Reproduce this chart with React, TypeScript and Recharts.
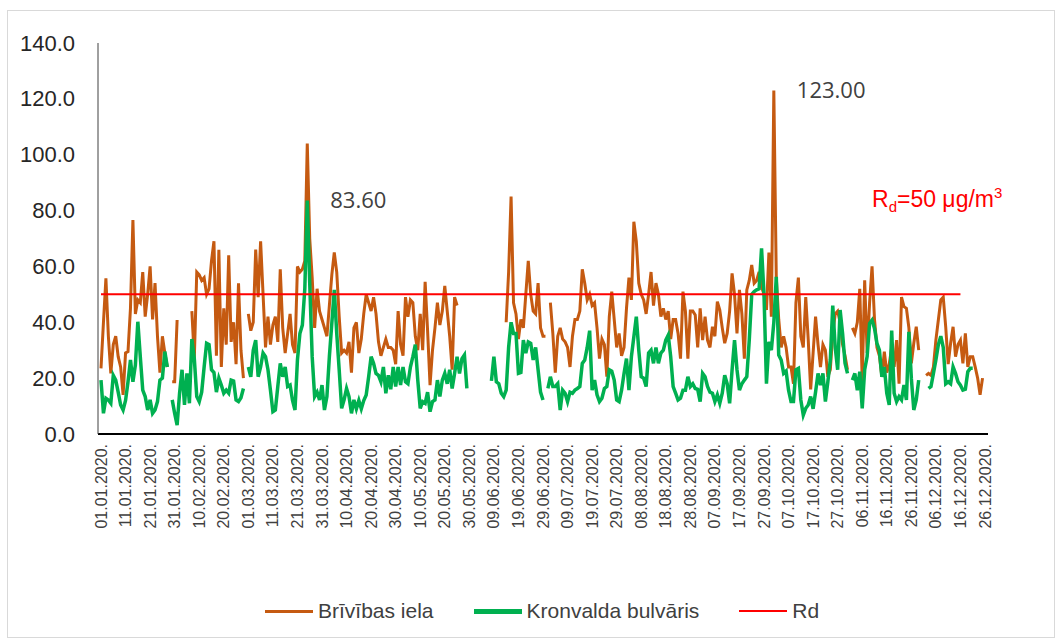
import { LineChart, Line, XAxis, YAxis, ReferenceLine, ReferenceDot } from 'recharts';

// daily PM10 averages, 01.01.2020. - 26.12.2020. (null = no data)
const brivibasIela: (number | null)[] = [
  23.5, 40, 55.7, 35, 21.7, 32, 35, 27.7, 24, 14,
  29, 29.5, 45, 76.6, 43, 48, 47, 58, 42, 50,
  60, 41, 54, 35, 22, 35, 29, 24, null, 18.7,
  18.7, 40.8, null, null, null, null, null, 44, 27, 58,
  57, 55, 56, 50, 52, 62, 69, 28, 66, 24,
  45, 32, 64, 33, 40, 25, 54, 30, 20, null,
  43, 37, 40, 66, 49, 69, 50, 31, 42, 32,
  39, 42, 33, 59, 38, 29, 36, 43, 32, 29,
  60, 58, 59, 62, 104, 70, 56, 38, 52, 44,
  41, 38, 35, 46, 57, 65, 58, 42, 29, 30,
  29, 33, 22, 38, 40, 29, 34, 43, 50, 47,
  44, 49, 43, 33, 28, 31, 34, 31, 31, 30,
  25, 44, 32, 28, 49, 42, 48, 47, 35, 30,
  43, 30, 54.5, 37, 17.5, 30, 38, 47, 39, 44,
  53, 44, 35, 23, 49, 46, null, null, null, null,
  null, null, null, null, null, null, null, null, null, null,
  null, null, null, null, null, 40, 58, 85, 47, 43,
  34, 41, 38, 50, 62, 50, 44, 43, 54, 38,
  35, 35, null, 47, 36, 22, 35, 38, 34, 33,
  31, 24, 35, 41, 41, 44, 59, 54, 48, 50,
  46, 47, 38, 27, 34, 32, 20.5, 42, 51, 41,
  31, 36, 28, 31, 45, 56, 48, 76, 69, 54,
  50, 48, 43, 50, 58, 46, 54, 50, 42, 45,
  41, 44, 34, 41, 41, 36, 27, 51, 44, 27,
  44, 44, 42.6, 31, 45, 33.6, 42, 33.6, 31, 38.4,
  35, 47.4, 44.4, 38, 32.5, 36, 44, 57.5, 50, 36,
  51.6, 43, 27, 51.6, 55, 60.5, 54, 55, 58, 52.7,
  50, 44.4, 65, 42, 123, 56, 41, 31, 35, 31,
  24, 24, 18, 47, 56, 35, 31, 49, 34, 16,
  29, 42, 32, 24, 32, 30, 20.5, 23, 36, 43,
  44, 40, 32, 28, 23, null, 38, 36, 40, 52,
  19, 55, 29, 47, 60, 41, 31, 28, 20.5, 29.5,
  22, 25, 31, 24, 33.6, 18, 49, 45.6, 45, 38,
  25.3, 32.5, 38.4, 30, null, null, 21, 21.7, 21, 24,
  33.6, 40.8, 48, 49, 38.4, 25, 32.5, 38.4, 27.7, 32,
  33.6, 25.3, 36, 24, 27.7, 27.7, 24, 20, 14, 20,
  null,
];

const kronvaldaBulvaris: (number | null)[] = [
  19.3, 7.4, 12.8, 12.2, 11, 21, 19.3, 15, 10.4, 8.6,
  12, 18.7, 26.5, 18.7, 24.7, 40.2, 27.7, 15.7, 13.4, 8.6,
  12.2, 7.4, 8.6, 11.6, 19.3, 20, 29.5, 24, null, 12.2,
  7.4, 3.2, 14.6, 23, 10.4, 21.7, 11, 34, 27, 13.4,
  11.6, 15, 24, 32.5, 32, 23, 22, 15, 20, 17.5,
  14.6, 15.7, 14.6, 19.3, 19, 12.2, 11.6, 13, 16.3, null,
  24, 20.5, 30, 33.6, 20.5, 24, 29, 27.7, 23, 15.7,
  8, 8.6, 17, 25.3, 20.5, 24, 17, 17.5, 12, 8.6,
  26.5, 36, 39, 52, 83.6, 54, 27.7, 13.4, 15, 12.2,
  17.5, 8.6, 13.4, 27.7, 39.6, 51.6, 36, 23, 9.2, 12.2,
  16.3, 13.4, 7.4, 12.2, 9, 12, 9, 12, 14, 20.5,
  27.7, 25.3, 21.7, 21, 18.7, 24, 14.6, 21, 16, 24,
  17, 24, 17.5, 24, 18.7, 18, 24, 27.7, 32, 19.3,
  9.2, 11.6, 11, 15, 8, 11.6, 12.2, 19.3, 13.4, 19.3,
  21.7, 18, 23, 16.3, 21.7, 27.7, 21.7, 27, 28.3, 16.3,
  null, null, null, null, null, null, null, null, null, 19,
  27.7, 18.7, 18, 14.6, 13.4, 15.7, 31, 40, 36, 36,
  21.7, 22, 33.6, 29, 33, 32.5, 26.5, 31, 23, 15,
  12.2, null, 16.3, 20.5, 17, 17, 18, 8.6, 15.7, 14.6,
  11.6, 15, 14.6, 15.7, 16.3, 17, 25.3, 26.5, 31, 37,
  15.7, 19.3, 14, 11.6, 12.8, 16.3, 17, 23, 22.5, 19.3,
  12.2, 11.6, 15.7, 21.7, 27, 15.7, 27.7, 34.8, 42, 30,
  20.5, 20, 17, 29, 30, 25.3, 31, 25.3, 29, 30,
  33.6, 35.4, 27.7, 17, 14.6, 12.2, 12.8, 15.7, 15.7, 20.5,
  17, 18, 16.3, 16, 11.6, 21.7, 20.5, 17, 15, 14.6,
  11.6, 14, 11, 14.6, 21, 18, 11, 23, 33.6, 23,
  15.7, 18, 19.3, 20.5, 33.6, 50, 51, 51.6, 52, 66.5,
  50, 18, 33, 30, 40, 56.3, 28.3, 26.5, 21.7, 22.5,
  15.7, 11.6, 11.6, 23, 23.5, 12.2, 6.8, 9.2, 10.4, 13.4,
  9, 15, 21.7, 17.5, 21.7, 11.6, 18.7, 26.5, 46, 31,
  23, 44.4, 36, 25.3, 21.7, null, 19.3, 21.7, 15.7, 22.3,
  9.2, 23, 27.7, 39.6, 40.8, 37.8, 32.5, 30, 20.5, 24,
  14.6, 10.4, 37, 14.6, 11.6, 13.4, 12.2, 17.5, 12.2, 36.6,
  20, 8.6, 12.2, 19.3, null, null, null, 16.3, 17, 21.7,
  26.5, 32, 35, 31, 18, 18.7, 18, 24, 21.7, 18.7,
  17.5, 15.7, 16, 22.3, 23.5, 23.5, null, null, null, null,
  null,
];

const yTicks = [0, 20, 40, 60, 80, 100, 120, 140];
const RD_LIMIT = 50;
const RD_START = '01.01.2020.';
const RD_END = '16.12.2020.';

const peakLabels = [
  { date: '25.03.2020.', value: 83.6, text: '83.60' },
  { date: '01.10.2020.', value: 123, text: '123.00' },
];

const pad = (n: number) => String(n).padStart(2, '0');
const dates = brivibasIela.map((_, i) => {
  const d = new Date(Date.UTC(2020, 0, 1 + i));
  return `${pad(d.getUTCDate())}.${pad(d.getUTCMonth() + 1)}.2020.`;
});

const data = dates.map((date, i) => ({
  date,
  brivibas: brivibasIela[i],
  kronvalda: kronvaldaBulvaris[i],
}));

const FONT = '"Liberation Sans", Arial, sans-serif';
const ORANGE = '#C55A11';
const GREEN = '#00B050';
const RED = '#FF0000';

const DateTick = ({ x, y, payload }: any) => (
  <text
    x={x}
    y={y}
    transform={`rotate(-90 ${x} ${y})`}
    textAnchor="end"
    dominantBaseline="central"
    fontSize={16}
    fontFamily={FONT}
    fill="#404040"
  >
    {payload.value}
  </text>
);

const ValueTick = ({ x, y, payload }: any) => (
  <text x={x} y={y} textAnchor="end" dominantBaseline="central" fontSize={22} fontFamily={FONT} fill="#262626">
    {Number(payload.value).toFixed(1)}
  </text>
);

const legendItems = [
  { name: 'Brīvības iela', color: ORANGE, width: 3 },
  { name: 'Kronvalda bulvāris', color: GREEN, width: 5 },
  { name: 'Rd', color: RED, width: 2 },
];

export default function App() {
  return (
    <div style={{ position: 'absolute', left: 0, top: 0, width: 1062, height: 642, background: '#fff' }}>
      <div
        style={{
          position: 'absolute',
          left: 7,
          top: 10,
          width: 1046,
          height: 626,
          border: '1px solid #D9D9D9',
        }}
      />
      <LineChart width={1062} height={642} data={data} margin={{ top: 43, right: 74, bottom: 0, left: 0 }}>
        <XAxis
          dataKey="date"
          type="category"
          scale="point"
          interval={9}
          padding={{ left: 3, right: 3 }}
          height={208}
          tickLine={false}
          tickSize={0}
          tickMargin={10}
          tick={<DateTick />}
          axisLine={{ stroke: '#000', strokeWidth: 2 }}
        />
        <YAxis
          domain={[0, 140]}
          ticks={yTicks}
          width={98}
          tickLine={false}
          tickSize={0}
          tickMargin={23}
          tick={<ValueTick />}
          axisLine={{ stroke: '#404040', strokeWidth: 1 }}
        />
        <Line
          dataKey="brivibas"
          name="Brīvības iela"
          stroke={ORANGE}
          strokeWidth={3}
          dot={false}
          activeDot={false}
          isAnimationActive={false}
        />
        <Line
          dataKey="kronvalda"
          name="Kronvalda bulvāris"
          stroke={GREEN}
          strokeWidth={3.5}
          dot={false}
          activeDot={false}
          isAnimationActive={false}
        />
        <ReferenceLine
          segment={[
            { x: RD_START, y: RD_LIMIT },
            { x: RD_END, y: RD_LIMIT },
          ]}
          stroke={RED}
          strokeWidth={2}
        />
        {peakLabels.map((p) => (
          <ReferenceDot
            key={p.text}
            x={p.date}
            y={p.value}
            r={0}
            stroke="none"
            label={{
              value: p.text,
              position: 'right',
              offset: 23,
              fontSize: 22,
              fill: '#404040',
              fontFamily: '"Open Sans", sans-serif',
            }}
          />
        ))}
      </LineChart>
      <div
        style={{
          position: 'absolute',
          left: 872,
          top: 184,
          color: RED,
          fontFamily: FONT,
          fontSize: 23,
          whiteSpace: 'nowrap',
        }}
      >
        R<sub style={{ fontSize: 15 }}>d</sub>=50 μg/m<sup style={{ fontSize: 15 }}>3</sup>
      </div>
      <div
        style={{
          position: 'absolute',
          left: 265,
          top: 598,
          display: 'flex',
          gap: 40,
          fontFamily: FONT,
          fontSize: 21,
          lineHeight: '26px',
          color: '#404040',
          whiteSpace: 'nowrap',
        }}
      >
        {legendItems.map((item) => (
          <div key={item.name} style={{ display: 'flex', alignItems: 'center', gap: 5 }}>
            <span style={{ display: 'inline-block', width: 48, height: item.width, background: item.color }} />
            <span>{item.name}</span>
          </div>
        ))}
      </div>
    </div>
  );
}
